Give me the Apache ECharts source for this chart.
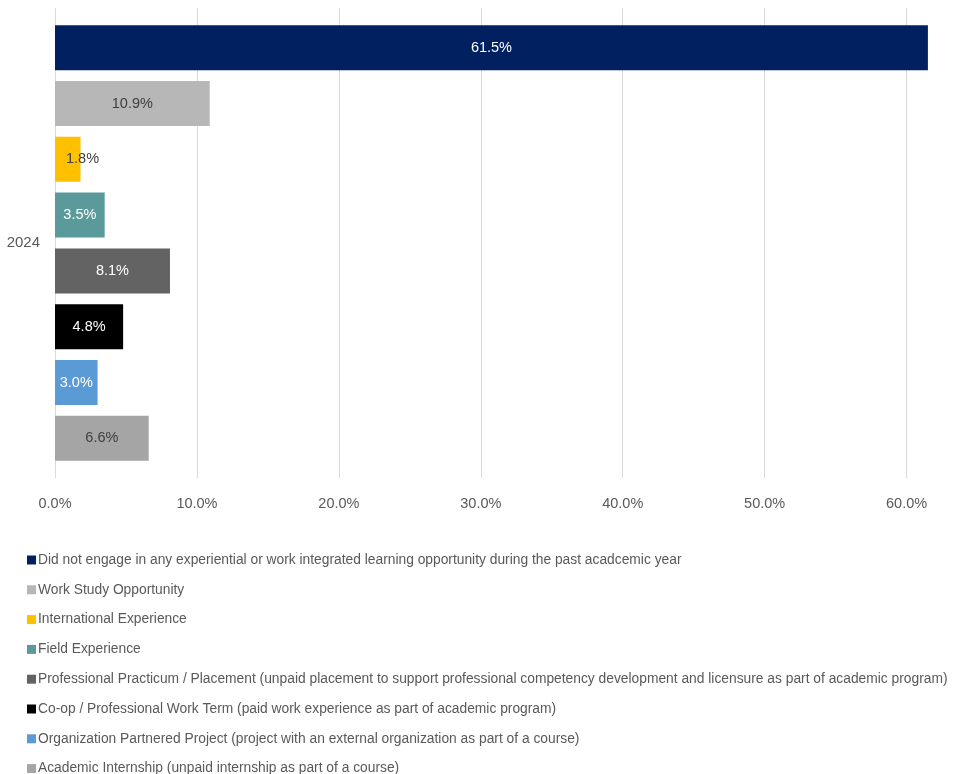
<!DOCTYPE html>
<html>
<head>
<meta charset="utf-8">
<script src="https://cdn.jsdelivr.net/npm/echarts@6/dist/echarts.min.js"></script>
<style>
  html, body { margin: 0; padding: 0; background: #ffffff; }
  #chart { width: 966px; height: 774px; }
</style>
</head>
<body>
<div id="chart"></div>
<script>
// Survey year shown on the category axis
const years = ['2024'];

// Experiential learning categories, one series each
const seriesNames = [
  'Did not engage in any experiential or work integrated learning opportunity during the past acadcemic year',
  'Work Study Opportunity',
  'International Experience',
  'Field Experience',
  'Professional Practicum / Placement (unpaid placement to support professional competency development and licensure as part of academic program)',
  'Co-op / Professional Work Term (paid work experience as part of academic program)',
  'Organization Partnered Project (project with an external organization as part of a course)',
  'Academic Internship (unpaid internship as part of a course)'
];

// Share of respondents (%) per category
const values = [61.5, 10.9, 1.8, 3.5, 8.1, 4.8, 3.0, 6.6];

// Value-axis tick labels
const xTicks = [0, 10, 20, 30, 40, 50, 60];

const colors = ['#002060', '#b7b7b7', '#ffc000', '#5b9a9b', '#636363', '#000000', '#5b9bd5', '#a5a5a5'];
const labelColors = ['#ffffff', '#404040', '#404040', '#ffffff', '#ffffff', '#ffffff', '#ffffff', '#404040'];

const FONT = 'Liberation Sans';
const TEXT = '#595959';

const chart = echarts.init(document.getElementById('chart'), null, { renderer: 'canvas' });

const series = seriesNames.map((name, i) => ({
  name: name,
  type: 'bar',
  data: [values[i]],
  barWidth: 45,
  barGap: '24%',
  itemStyle: { color: colors[i] },
  label: {
    show: true,
    position: i === 2 ? 'insideLeft' : 'inside',
    distance: i === 2 ? 11 : 5,
    formatter: p => p.value.toFixed(1) + '%',
    color: labelColors[i],
    fontFamily: FONT,
    fontSize: 14.5
  }
}));

// Light gridlines at each labelled tick; the closing tick at max stays invisible
const gridColors = xTicks.map(() => '#d9d9d9').concat(['rgba(0,0,0,0)']);

chart.setOption({
  animation: false,
  color: colors,
  textStyle: { fontFamily: FONT },
  grid: { left: 55, right: 31, top: 8, bottom: 296, containLabel: false },
  xAxis: {
    type: 'value',
    min: 0,
    max: 62,
    interval: 10,
    axisLine: { show: false },
    axisTick: { show: false },
    splitLine: { show: true, lineStyle: { color: gridColors, width: 1 } },
    axisLabel: {
      showMaxLabel: false,
      margin: 18,
      color: TEXT,
      fontFamily: FONT,
      fontSize: 14.5,
      formatter: v => (xTicks.indexOf(v) >= 0 ? v.toFixed(1) + '%' : '')
    }
  },
  yAxis: {
    type: 'category',
    data: years,
    axisLine: { show: false },
    axisTick: { show: false },
    axisLabel: { margin: 15, color: TEXT, fontFamily: FONT, fontSize: 15 }
  },
  legend: {
    orient: 'vertical',
    left: 27,
    top: 553,
    height: 240,
    padding: 0,
    icon: 'rect',
    itemWidth: 9,
    itemHeight: 9,
    itemGap: 15.8,
    textStyle: { color: TEXT, fontFamily: FONT, fontSize: 13.8, padding: [0, 0, 0, -3] },
    data: seriesNames
  },
  series: series
});
</script>
</body>
</html>
